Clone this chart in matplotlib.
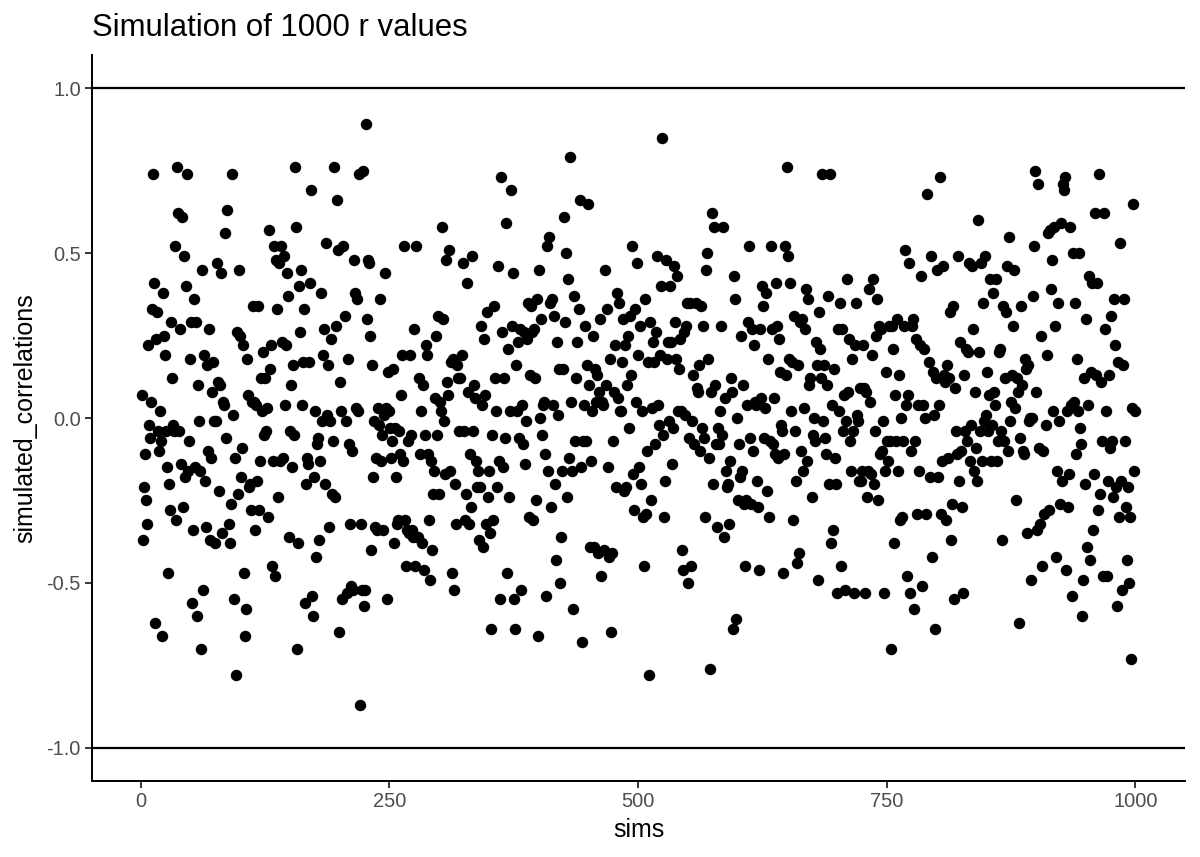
import matplotlib
matplotlib.use("Agg")
import matplotlib.pyplot as plt
import numpy as np

plt.rcParams["font.family"] = ["Liberation Sans", "DejaVu Sans"]

# simulated r values, in order of sims (20 blocks of ~50 sims)
r_0_50 = [0.07, -0.37, -0.21, -0.11, -0.25, -0.32, 0.22, -0.02, -0.06, 0.05,
          0.33, 0.74, 0.41, -0.62, 0.24, 0.32, -0.04, -0.10, 0.02, -0.07,
          -0.66, 0.38, 0.25, 0.19, -0.04, -0.15, -0.47, -0.20, -0.28, 0.29,
          0.12, -0.02, -0.04, 0.52, -0.31, 0.76, 0.62, -0.04, 0.27, -0.14,
          0.61, -0.27, 0.49, -0.18, 0.40]
r_50_100 = [0.74, -0.16, -0.07, 0.18, 0.29, -0.56, -0.34, 0.36, -0.15, 0.29,
            -0.60, 0.10, -0.01, -0.16, -0.70, 0.45, -0.52, 0.19, -0.19, -0.33,
            0.16, -0.10, 0.27, -0.37, -0.12, 0.08, 0.17, -0.01, -0.38, -0.01,
            0.47, 0.11, -0.22, 0.10, 0.44, -0.35, 0.05, 0.04, 0.56, -0.06,
            0.63, -0.32, -0.38, -0.26, 0.74]
r_100_150 = [0.01, -0.55, -0.12, -0.78, 0.26, -0.23, 0.45, 0.25, -0.18, -0.09,
             0.22, -0.47, -0.66, -0.58, 0.18, 0.07, -0.21, -0.20, -0.28, 0.05,
             0.34, 0.05, -0.34, 0.04, -0.19, 0.34, -0.28, -0.13, 0.12, 0.02,
             0.20, -0.05, 0.12, -0.04, 0.03, -0.30, 0.57, 0.15, 0.22, -0.45,
             -0.13, 0.52, -0.48, 0.48, 0.33, -0.24, 0.47, -0.13, 0.52]
r_150_200 = [0.23, -0.12, 0.49, 0.04, 0.22, 0.44, 0.37, -0.36, -0.04, 0.10,
             -0.15, 0.16, -0.05, 0.76, 0.58, -0.70, -0.38, 0.40, 0.26, 0.45,
             0.04, 0.17, 0.33, -0.56, -0.20, -0.12, -0.14, 0.17, 0.41, 0.69,
             -0.54, -0.60, -0.18, 0.02, -0.42, -0.08, -0.06, -0.37, -0.13, 0.38,
             -0.01, 0.19, 0.27, -0.20, 0.53, 0.01, 0.16, -0.33]
r_200_250 = [-0.01, 0.24, -0.23, -0.07, 0.76, -0.24, 0.28, 0.66, 0.51, -0.65,
             0.11, 0.02, -0.55, 0.52, 0.31, -0.01, -0.53, 0.18, -0.08, -0.32,
             -0.51, -0.10, -0.52, 0.48, 0.38, 0.03, 0.36, 0.02, 0.74, -0.87,
             -0.32, -0.52, 0.75, -0.57, -0.52, 0.89, 0.30, 0.48, 0.47, 0.25,
             -0.40, 0.16, -0.18, -0.01, -0.33, -0.12, -0.34, 0.03, -0.02]
r_250_300 = [0.36, -0.13, -0.05, -0.34, 0.01, 0.44, 0.03, -0.55, 0.14, 0.02,
             -0.03, -0.12, -0.07, 0.15, -0.38, -0.03, -0.18, -0.32, -0.31, -0.04,
             -0.11, 0.07, 0.19, -0.13, 0.52, -0.31, -0.45, -0.34, -0.07, -0.35,
             0.19, -0.05, -0.34, -0.36, 0.27, -0.45, 0.52, -0.36, -0.36, 0.12,
             -0.11, 0.02, -0.38, 0.10, -0.46, -0.05, 0.22, 0.19, -0.11, -0.31]
r_300_350 = [-0.49, -0.13, -0.40, -0.23, -0.16, 0.06, 0.25, -0.05, 0.31, -0.23,
             0.05, 0.02, 0.58, 0.30, -0.01, -0.17, 0.48, 0.11, 0.07, 0.51,
             -0.16, 0.17, -0.47, 0.18, -0.52, -0.20, -0.32, 0.16, 0.12, -0.04,
             0.12, 0.19, 0.47, -0.04, -0.31, -0.23, 0.41, 0.08, -0.32, -0.11,
             -0.27, 0.49, -0.04, 0.10, 0.06, -0.13, -0.21, -0.16, -0.37, -0.21]
r_350_400 = [0.28, 0.04, -0.39, 0.24, 0.07, -0.32, 0.32, -0.24, -0.16, -0.35,
             -0.64, -0.05, -0.31, 0.34, 0.12, 0.02, -0.21, 0.46, -0.13, -0.55,
             0.73, 0.26, -0.15, 0.12, -0.06, 0.59, -0.47, 0.21, -0.24, 0.02,
             0.69, 0.28, 0.44, -0.55, -0.64, 0.16, 0.02, 0.23, -0.06, 0.27,
             -0.52, 0.04, -0.08, 0.26, -0.14, -0.01, 0.24, 0.35, -0.30, 0.13]
r_400_450 = [0.34, 0.26, -0.31, 0.27, 0.12, -0.25, 0.36, -0.66, 0.45, 0.00,
             0.30, -0.05, 0.04, 0.05, -0.11, -0.54, 0.52, -0.16, 0.55, 0.35,
             -0.27, 0.36, 0.04, 0.31, -0.20, -0.43, 0.23, 0.01, 0.15, -0.50,
             -0.36, -0.16, 0.15, 0.61, 0.29, 0.50, -0.24, 0.42, -0.12, 0.79,
             0.05, -0.16, -0.58, 0.37, -0.07, 0.12, 0.23, 0.33, 0.66, -0.15]
r_450_500 = [-0.68, -0.07, 0.04, 0.28, -0.07, 0.16, 0.65, 0.10, -0.39, -0.13,
             0.02, 0.25, -0.39, 0.15, 0.05, 0.13, -0.41, 0.08, 0.30, -0.48,
             0.05, 0.04, -0.40, 0.45, 0.10, 0.33, -0.15, -0.42, 0.18, -0.65,
             -0.41, -0.07, 0.08, 0.22, -0.21, 0.38, 0.06, 0.35, 0.02, 0.02,
             0.17, 0.30, -0.22, 0.22, -0.21, 0.10, 0.25, -0.03, 0.31, 0.13]
r_500_550 = [0.52, -0.17, -0.28, 0.33, 0.05, 0.47, 0.19, -0.15, 0.28, -0.20,
             0.02, -0.30, -0.45, 0.36, -0.29, -0.10, 0.17, -0.78, 0.29, -0.25,
             0.03, 0.23, 0.17, -0.08, 0.26, 0.49, 0.04, -0.02, 0.19, 0.40,
             0.85, -0.05, -0.30, -0.19, 0.48, 0.18, 0.23, -0.01, 0.40, 0.23,
             -0.14, -0.03, 0.46, 0.29, 0.18, 0.43, 0.02, 0.15, 0.24, 0.02]
r_550_600 = [-0.40, -0.46, 0.26, 0.01, 0.28, 0.35, -0.50, -0.06, 0.35, -0.45,
             -0.01, 0.13, -0.08, 0.35, 0.09, 0.08, 0.16, -0.10, 0.34, -0.03,
             0.28, -0.06, -0.30, 0.45, 0.50, 0.18, -0.12, -0.76, 0.08, 0.62,
             -0.20, 0.58, 0.10, -0.08, -0.33, -0.03, -0.08, 0.02, 0.28, -0.05,
             0.58, -0.36, 0.06, -0.16, -0.21, -0.20, -0.32, -0.13, 0.12, 0.08]
r_600_650 = [-0.64, 0.43, 0.36, -0.61, 0.00, -0.25, -0.08, -0.18, 0.25, -0.16,
             0.10, -0.26, -0.45, -0.25, 0.04, 0.29, 0.52, -0.06, -0.26, 0.27,
             -0.10, 0.22, 0.05, 0.04, -0.19, -0.27, -0.46, 0.27, 0.06, 0.40,
             0.34, -0.06, 0.03, 0.38, -0.22, 0.18, -0.30, -0.07, 0.52, 0.27,
             -0.08, 0.06, -0.11, 0.41, 0.28, -0.12, 0.24, 0.14, -0.02, -0.04]
r_650_700 = [-0.47, -0.11, 0.52, 0.13, 0.76, 0.49, 0.18, 0.41, 0.02, 0.17,
             -0.31, 0.31, -0.04, -0.19, -0.44, 0.16, -0.41, 0.29, -0.10, 0.30,
             -0.16, 0.03, 0.27, 0.39, -0.13, 0.36, 0.10, 0.12, -0.24, -0.05,
             0.00, -0.07, 0.23, 0.16, -0.49, 0.32, 0.21, 0.12, 0.74, -0.01,
             0.16, -0.06, -0.11, 0.10, 0.37, -0.20, 0.74, -0.38, 0.04, -0.34]
r_700_750 = [0.15, -0.12, -0.20, -0.53, 0.27, 0.02, 0.35, -0.45, 0.27, -0.04,
             0.07, -0.52, -0.01, 0.42, 0.08, 0.24, -0.07, -0.16, 0.18, -0.04,
             -0.53, 0.22, 0.35, 0.01, -0.01, -0.19, 0.09, -0.19, -0.16, 0.22,
             0.09, -0.53, 0.08, -0.24, -0.16, 0.39, 0.05, -0.17, 0.19, 0.42,
             -0.20, -0.04, 0.25, 0.36, -0.25, 0.28, -0.11, 0.27, -0.10, -0.01]
r_750_800 = [-0.53, -0.16, 0.14, -0.07, -0.13, 0.28, -0.07, -0.70, 0.28, 0.21,
             -0.38, 0.07, -0.07, 0.30, -0.16, 0.13, -0.31, 0.00, -0.30, -0.07,
             0.28, 0.51, 0.04, -0.48, 0.07, 0.47, -0.53, -0.10, 0.28, 0.30,
             -0.58, -0.07, 0.24, -0.29, 0.04, -0.16, 0.22, 0.43, -0.51, 0.04,
             0.21, 0.00, -0.29, 0.68, 0.17, -0.18, 0.49, -0.42, 0.14, 0.01]
r_800_850 = [-0.64, 0.12, 0.45, -0.18, 0.04, 0.73, -0.29, -0.13, 0.46, 0.13,
             0.11, -0.31, 0.16, -0.12, 0.12, 0.32, -0.37, -0.26, 0.34, -0.55,
             0.09, -0.04, -0.11, 0.49, -0.19, 0.23, -0.10, -0.27, -0.53, 0.13,
             -0.04, 0.21, -0.07, 0.20, 0.47, -0.13, -0.02, 0.46, 0.27, -0.16,
             0.08, -0.09, -0.19, 0.60, 0.20, -0.04, 0.47, -0.13, 0.35, -0.01]
r_850_900 = [0.49, 0.01, 0.14, -0.04, 0.07, 0.42, -0.13, -0.02, 0.38, 0.08,
             0.04, 0.42, -0.13, -0.07, 0.20, 0.21, -0.04, -0.37, 0.34, -0.07,
             0.12, 0.32, 0.46, -0.10, 0.55, -0.01, 0.05, 0.13, 0.28, 0.45,
             0.03, -0.25, 0.12, 0.08, -0.62, -0.06, 0.34, 0.10, -0.10, -0.11,
             0.18, 0.15, -0.35, 0.16, -0.01, 0.00, -0.49, 0.00, 0.37, 0.52]
r_900_950 = [0.75, 0.08, -0.34, 0.71, -0.09, -0.32, 0.25, -0.45, -0.10, -0.29,
             -0.02, 0.19, 0.56, -0.28, 0.57, 0.39, 0.48, 0.02, 0.58, 0.28,
             -0.42, -0.16, 0.35, -0.01, -0.26, 0.59, -0.19, 0.71, 0.69, 0.73,
             -0.46, 0.02, -0.27, -0.17, 0.58, 0.04, -0.54, 0.50, 0.05, 0.35,
             -0.11, 0.18, 0.02, 0.50, -0.03, -0.08, -0.60, -0.49, 0.12, -0.20]
r_950_1000 = [0.30, -0.39, 0.04, 0.43, -0.43, 0.14, 0.41, -0.34, -0.17, 0.62,
              0.13, 0.41, -0.28, 0.74, -0.23, 0.11, -0.07, -0.48, 0.62, 0.27,
              0.02, -0.48, -0.19, 0.13, -0.09, 0.31, -0.07, -0.24, 0.36, 0.22,
              -0.21, -0.57, 0.17, -0.30, 0.53, -0.19, -0.52, 0.16, 0.36, -0.07,
              -0.27, -0.43, -0.21, -0.50, -0.30, -0.73, 0.03, 0.65, -0.16, 0.02]

simulated_correlations = np.array(
    r_0_50 + r_50_100 + r_100_150 + r_150_200 + r_200_250 + r_250_300
    + r_300_350 + r_350_400 + r_400_450 + r_450_500 + r_500_550 + r_550_600
    + r_600_650 + r_650_700 + r_700_750 + r_750_800 + r_800_850 + r_850_900
    + r_900_950 + r_950_1000)
sims = np.linspace(1, 1000, len(simulated_correlations))

x_ticks = [0, 250, 500, 750, 1000]
y_ticks = [-1.0, -0.5, 0.0, 0.5, 1.0]
ref_lines = [-1, 1]

fig = plt.figure(figsize=(12, 8.57), dpi=100)
ax = fig.add_axes([0.0767, 0.0887, 0.9108, 0.8471])

ax.scatter(sims, simulated_correlations, s=68, color="black", linewidths=0, zorder=3)
for yl in ref_lines:
    ax.axhline(yl, color="black", linewidth=1.6, zorder=2)

ax.set_xlim(-49, 1050)
ax.set_ylim(-1.1, 1.1)
ax.set_xticks(x_ticks)
ax.set_xticklabels([str(t) for t in x_ticks])
ax.set_yticks(y_ticks)
ax.set_yticklabels([f"{t:.1f}" for t in y_ticks])

for side in ["top", "right"]:
    ax.spines[side].set_visible(False)
for side in ["left", "bottom"]:
    ax.spines[side].set_linewidth(1.4)
ax.tick_params(axis="both", colors="black", labelcolor="#4d4d4d",
               labelsize=14.4, length=5, width=1.1, pad=3)

ax.set_xlabel("sims", fontsize=18, labelpad=5)
ax.set_ylabel("simulated_correlations", fontsize=18, labelpad=7)
ax.set_title("Simulation of 1000 r values", fontsize=22.4, loc="left",
             x=0.0, pad=14)

fig.savefig("out.png", dpi=100)
